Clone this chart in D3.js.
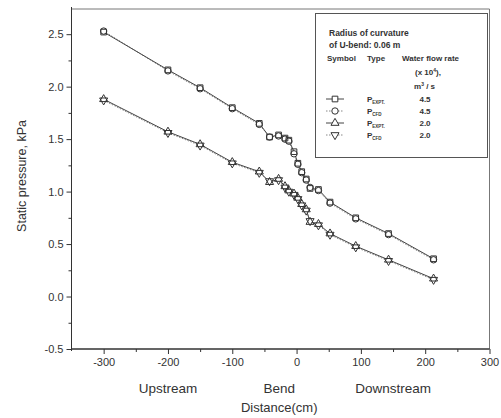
<!DOCTYPE html>
<html>
<head>
<meta charset="utf-8">
<script src="https://cdn.jsdelivr.net/npm/d3@7"></script>
<style>
  body { margin: 0; background: #fff; }
  text { font-family: "Liberation Sans", Arial, sans-serif; fill: #333; }
</style>
</head>
<body>
<svg id="chart" width="501" height="418"></svg>
<script>
// distance along the pipe (cm)
var distances = [-300, -200, -150, -100, -58, -42, -28, -18, -12, -4, 2, 8, 15, 21, 34, 52, 92, 143, 213];
// static pressure (kPa)
var expt45 = [2.52, 2.16, 1.99, 1.80, 1.65, 1.52, 1.54, 1.51, 1.49, 1.38, 1.27, 1.19, 1.12, 1.03, 1.02, 0.90, 0.75, 0.60, 0.36];
var cfd45  = [2.53, 2.15, 1.98, 1.79, 1.64, 1.52, 1.53, 1.50, 1.48, 1.36, 1.26, 1.18, 1.11, 1.04, 1.01, 0.89, 0.74, 0.59, 0.35];
var expt20 = [1.88, 1.57, 1.45, 1.28, 1.19, 1.09, 1.12, 1.05, 1.01, 0.98, 0.94, 0.88, 0.83, 0.71, 0.69, 0.60, 0.48, 0.35, 0.17];
var cfd20  = [1.87, 1.56, 1.44, 1.27, 1.18, 1.10, 1.11, 1.04, 1.00, 0.97, 0.93, 0.87, 0.82, 0.72, 0.68, 0.59, 0.47, 0.34, 0.16];

var xTicks = [-300, -200, -100, 0, 100, 200, 300];
var xMinor = [-250, -150, -50, 50, 150, 250];
var yTicks = [-0.5, 0.0, 0.5, 1.0, 1.5, 2.0, 2.5];
var yMinor = [-0.25, 0.25, 0.75, 1.25, 1.75, 2.25];

var regionLabels = ["Upstream", "Bend", "Downstream"];
var regionPos = [-200, -27, 150];

var legendRows = [
  {sym: "square", dash: null, sub: "EXPT.", rate: "4.5"},
  {sym: "circle", dash: "1.5,1.5", sub: "CFD", rate: "4.5"},
  {sym: "up", dash: null, sub: "EXPT.", rate: "2.0"},
  {sym: "down", dash: "1.5,1.5", sub: "CFD", rate: "2.0"}
];

var svg = d3.select("#chart");
var x = d3.scaleLinear().domain([-350, 300]).range([71.5, 489.5]);
var y = d3.scaleLinear().domain([-0.5, 2.74]).range([349, 9]);

// frame (top + right)
svg.append("path")
  .attr("d", "M" + x(-350) + "," + y(2.74) + "H" + x(300) + "V" + y(-0.5))
  .attr("fill", "none").attr("stroke", "#777").attr("stroke-width", 1);

var hy = function(f) { return function(d) { return f(d).replace("\u2212", "-"); }; };
var gx = svg.append("g").attr("transform", "translate(0," + y(-0.5) + ")");
gx.call(d3.axisBottom(x).tickValues(xTicks).tickSize(5).tickPadding(4).tickFormat(hy(d3.format("d"))));
gx.append("g").call(d3.axisBottom(x).tickValues(xMinor).tickSize(3).tickFormat(""));
var gy = svg.append("g").attr("transform", "translate(" + x(-350) + ",0)");
gy.call(d3.axisLeft(y).tickValues(yTicks).tickSize(5).tickPadding(3).tickFormat(hy(d3.format(".1f"))));
gy.append("g").call(d3.axisLeft(y).tickValues(yMinor).tickSize(3).tickFormat(""));
svg.selectAll(".domain").attr("stroke", "#333");
svg.selectAll(".tick line").attr("stroke", "#333");
svg.selectAll(".tick text").style("font-size", "11px").attr("fill", "#333");
gx.selectAll(".domain").attr("d", "M" + x(-350) + ",0H" + x(300));
gy.selectAll(".domain").attr("d", "M0," + (y(2.74) - 2) + "V" + (y(-0.5) + 2));

// axis titles
svg.selectAll(".region").data(regionLabels).enter().append("text")
  .attr("x", function(d, i) { return x(regionPos[i]); })
  .attr("y", 393).attr("text-anchor", "middle")
  .style("font-size", "13.5px").text(function(d) { return d; });
svg.append("text").attr("x", x(-27)).attr("y", 412).attr("text-anchor", "middle")
  .style("font-size", "13px").text("Distance(cm)");
svg.append("text").attr("transform", "translate(26,176) rotate(-90)")
  .attr("text-anchor", "middle").style("font-size", "12.5px").text("Static pressure, kPa");

// lines
var line = d3.line().x(function(d) { return x(d[0]); }).y(function(d) { return y(d[1]); });
function pairs(vals) { return distances.map(function(d, i) { return [d, vals[i]]; }); }
var series = [
  {vals: cfd45, sym: "circle", dash: "1.5,1.5", stroke: "#888"},
  {vals: cfd20, sym: "down", dash: "1.5,1.5", stroke: "#888"},
  {vals: expt45, sym: "square", dash: null, stroke: "#444"},
  {vals: expt20, sym: "up", dash: null, stroke: "#444"}
];
series.forEach(function(s) {
  svg.append("path").datum(pairs(s.vals)).attr("d", line)
    .attr("fill", "none").attr("stroke", s.stroke).attr("stroke-width", 1)
    .attr("stroke-dasharray", s.dash);
});

var symMap = {
  square: d3.symbol().type(d3.symbolSquare).size(32),
  circle: d3.symbol().type(d3.symbolCircle).size(32),
  up: d3.symbol().type(d3.symbolTriangle).size(28),
  down: d3.symbol().type(d3.symbolTriangle).size(28)
};
function marker(g, sym, cx, cy, fill) {
  g.append("path").attr("d", symMap[sym]())
    .attr("transform", "translate(" + cx + "," + cy + ")" + (sym === "down" ? " rotate(180)" : ""))
    .attr("fill", fill).attr("stroke", "#333").attr("stroke-width", 1);
}
series.forEach(function(s, k) {
  var g = svg.append("g");
  pairs(s.vals).forEach(function(p) {
    marker(g, s.sym, x(p[0]), y(p[1]), k < 2 ? "#fff" : "none");
  });
});

// legend
var lg = svg.append("g");
lg.append("rect").attr("x", 315.5).attr("y", 13.5).attr("width", 172).attr("height", 144)
  .attr("fill", "#fff").attr("stroke", "#555").attr("stroke-width", 1);
var lfs = "8px";
lg.append("text").attr("x", 329).attr("y", 36).style("font-size", "8.5px").style("font-weight", "bold").text("Radius of curvature");
lg.append("text").attr("x", 329).attr("y", 48).style("font-size", "8.5px").style("font-weight", "bold").text("of U-bend: 0.06 m");
lg.append("text").attr("x", 327).attr("y", 61).style("font-size", lfs).style("font-weight", "bold").text("Symbol");
lg.append("text").attr("x", 367).attr("y", 61).style("font-size", lfs).style("font-weight", "bold").text("Type");
lg.append("text").attr("x", 402).attr("y", 61).style("font-size", lfs).style("font-weight", "bold").text("Water flow rate");
var t1 = lg.append("text").attr("x", 415).attr("y", 75).style("font-size", lfs).style("font-weight", "bold");
t1.append("tspan").text("(x 10");
t1.append("tspan").attr("dy", -3).style("font-size", "5px").text("4");
t1.append("tspan").attr("dy", 3).text("),");
var t2 = lg.append("text").attr("x", 414).attr("y", 89).style("font-size", lfs).style("font-weight", "bold");
t2.append("tspan").text("m");
t2.append("tspan").attr("dy", -3).style("font-size", "5px").text("3");
t2.append("tspan").attr("dy", 3).text(" / s");

var rowY = [99, 111, 123, 135];
legendRows.forEach(function(r, i) {
  var cy = rowY[i];
  lg.append("line").attr("x1", 326).attr("x2", 344).attr("y1", cy).attr("y2", cy)
    .attr("stroke", r.dash ? "#888" : "#444").attr("stroke-dasharray", r.dash);
  marker(lg, r.sym, 335, cy, "#fff");
  var t = lg.append("text").attr("x", 367).attr("y", cy + 3).style("font-size", lfs).style("font-weight", "bold");
  t.append("tspan").text("P");
  t.append("tspan").attr("dy", 2).style("font-size", "4.5px").text(r.sub);
  lg.append("text").attr("x", 425).attr("y", cy + 3).attr("text-anchor", "middle")
    .style("font-size", lfs).style("font-weight", "bold").text(r.rate);
});
</script>
</body>
</html>
